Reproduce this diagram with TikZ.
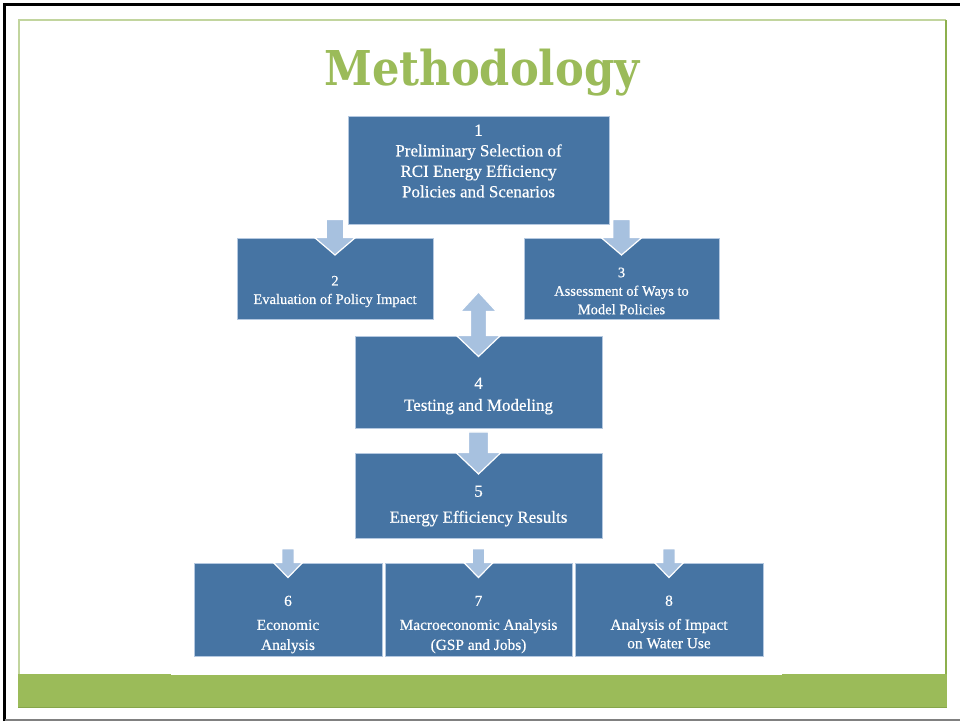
\documentclass[tikz,border=0pt]{standalone}
\usepackage{fontspec}
\setmainfont{Liberation Serif}
\newfontfamily\boxfont[FakeBold=0.5]{Liberation Serif}
\newfontfamily\titlefont{DejaVu Serif}
\usetikzlibrary{calc}
\definecolor{boxblue}{HTML}{4674A3}
\definecolor{boxedge}{HTML}{B4C8E0}
\definecolor{arrblue}{HTML}{A7C1DF}
\definecolor{titlegreen}{HTML}{9BBB59}
\definecolor{bandgreen}{HTML}{9BBB59}
\definecolor{bandedge}{HTML}{86A64A}
\definecolor{framelight}{HTML}{C2D59E}
\definecolor{framedark}{HTML}{8DB04E}
\tikzset{
  stepbox/.style={rectangle, fill=boxblue, draw=boxedge, line width=1pt, inner sep=0pt},
  boxtext/.style={text=white, align=center, inner sep=0pt},
  bigtxt/.style={boxtext, font=\boxfont\fontsize{17}{20.5}\selectfont},
  midtxt/.style={boxtext, font=\boxfont\fontsize{14.5}{18.5}\selectfont},
  lowtxt/.style={boxtext, font=\boxfont\fontsize{15.4}{20}\selectfont},
  arrowshape/.style={fill=arrblue, draw=white, line width=1.2pt, line join=miter},
}
% #1 source, #2 target, #3 shaft top offset from source south, #4 half shaft, #5 half head, #6 head length
\newcommand\fatarrow[6]{%
  \path[arrowshape] ($(#2.north |- #1.south)+(-#4,#3)$) -- ($(#2.north |- #1.south)+(#4,#3)$)
    -- ($(#2.north)+(#4,0)$) -- ($(#2.north)+(#5,0)$) -- ($(#2.north)+(0,#6)$)
    -- ($(#2.north)+(-#5,0)$) -- ($(#2.north)+(-#4,0)$) -- cycle;}
\begin{document}
\begin{tikzpicture}[x=1pt,y=-1pt]
\useasboundingbox (0,0) rectangle (960,721);
\fill[white] (0,0) rectangle (960,721);
% outer slide frame
\draw[black, line width=3pt] (4.5,721) -- (4.5,4.5) -- (960,4.5);
\draw[gray, line width=1.5pt] (4.5,720) -- (960,720);
% inner green frame
\draw[framelight, line width=1.5pt] (19,707) -- (19,20) -- (946,20);
\draw[framedark, line width=1.5pt] (946,20) -- (946,707);
\fill[bandgreen] (18,674) rectangle (947,707);
\draw[bandedge, line width=1pt] (18,707) -- (947,707);
\fill[white] (171,110) rectangle (782,675);
% title
\node[anchor=base, text=titlegreen, inner sep=0pt] (title) at (482,85)
  {\scalebox{0.9}[1]{\titlefont\bfseries\fontsize{48}{52}\selectfont Methodology}};
% boxes
\node[stepbox, minimum width=261pt, minimum height=108pt] (b1) at (478.5,170) {};
\node[stepbox, minimum width=196pt, minimum height=81pt] (b2) at (335,278.5) {};
\node[stepbox, minimum width=195pt, minimum height=81pt] (b3) at (621.5,278.5) {};
\node[stepbox, minimum width=247pt, minimum height=92pt] (b4) at (478.5,382) {};
\node[stepbox, minimum width=247pt, minimum height=85pt] (b5) at (478.5,495.5) {};
\node[stepbox, minimum width=188pt, minimum height=93pt] (b6) at (288,609.5) {};
\node[stepbox, minimum width=187pt, minimum height=93pt] (b7) at (478.5,609.5) {};
\node[stepbox, minimum width=188pt, minimum height=93pt] (b8) at (669,609.5) {};
% arrows
\fatarrow{b1}{b2}{-5}{8.7}{20.5}{17.5}
\fatarrow{b1}{b3}{-5}{8.7}{20.5}{17.5}
\fatarrow{b4}{b5}{3.4}{10}{22.5}{21.5}
\fatarrow{b5}{b6}{10.3}{6.3}{14.7}{15}
\fatarrow{b5}{b7}{10.3}{6.3}{14.7}{15}
\fatarrow{b5}{b8}{10.3}{6.3}{14.7}{15}
\path[arrowshape] ($(b4.north)+(0,-43.5)$) -- ($(b4.north)+(18,-24)$) -- ($(b4.north)+(8,-24)$)
  -- ($(b4.north)+(8,0)$) -- ($(b4.north)+(22,0)$) -- ($(b4.north)+(0,21)$)
  -- ($(b4.north)+(-22,0)$) -- ($(b4.north)+(-8,0)$) -- ($(b4.north)+(-8,-24)$)
  -- ($(b4.north)+(-18,-24)$) -- cycle;
% texts
\node[bigtxt] (t1) at ($(b1.center)+(0,-9)$) {1\\Preliminary Selection of\\RCI Energy Efficiency\\Policies and Scenarios};
\node[midtxt] (t2) at ($(b2.center)+(0,13)$) {2\\Evaluation of Policy Impact};
\node[midtxt] (t3) at ($(b3.center)+(0,12.5)$) {3\\Assessment of Ways to\\Model Policies};
\node[bigtxt] (t4) at ($(b4.center)+(0,14)$) {4\\[1.5pt]Testing and Modeling};
\node[bigtxt] (t5) at ($(b5.center)+(0,10.5)$) {5\\[5.5pt]Energy Efficiency Results};
\node[lowtxt] (t6) at ($(b6.center)+(0,15)$) {6\\[4pt]Economic\\Analysis};
\node[lowtxt] (t7) at ($(b7.center)+(0,15)$) {7\\[4pt]Macroeconomic Analysis\\(GSP and Jobs)};
\node[lowtxt] (t8) at ($(b8.center)+(0,12.5)$) {8\\[4pt]Analysis of Impact\\[-1.5pt]on Water Use};
\end{tikzpicture}
\end{document}
